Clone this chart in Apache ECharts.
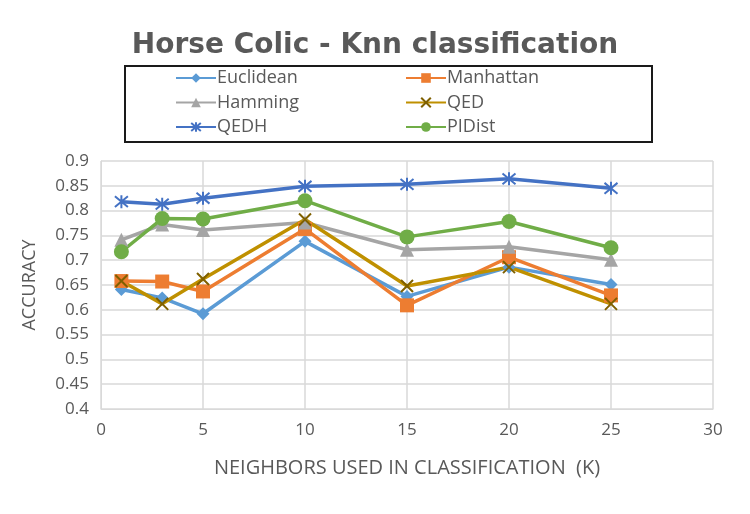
<!DOCTYPE html>
<html><head><meta charset="utf-8">
<script src="https://cdn.jsdelivr.net/npm/echarts@6/dist/echarts.min.js"></script>
<style>html,body{margin:0;padding:0;background:#fff}#c{width:750px;height:514px}</style>
</head><body><div id="c"></div>
<script>
const kValues = [1, 3, 5, 10, 15, 20, 25];
const euclidean = [0.641, 0.624, 0.592, 0.738, 0.627, 0.686, 0.651];
const manhattan = [0.658, 0.657, 0.637, 0.763, 0.609, 0.706, 0.629];
const hamming   = [0.741, 0.772, 0.761, 0.776, 0.721, 0.727, 0.701];
const qed       = [0.658, 0.612, 0.662, 0.782, 0.648, 0.686, 0.612];
const qedh      = [0.818, 0.813, 0.825, 0.849, 0.853, 0.864, 0.845];
const pidist    = [0.717, 0.784, 0.783, 0.820, 0.747, 0.778, 0.725];
const seriesNames = ['Euclidean', 'Manhattan', 'Hamming', 'QED', 'QEDH', 'PIDist'];

const pairs = v => kValues.map((k, i) => [k, v[i]]);
const X_PATH = 'path://M0,0L10,10M10,0L0,10';
const STAR_PATH = 'path://M0,0L10,10M10,0L0,10M5,-1L5,11';

function line(name, data, color, symbol, size, extra) {
  return Object.assign({
    name, type: 'line', data: pairs(data), symbol, symbolSize: size,
    lineStyle: { color, width: 3.5 },
    itemStyle: { color, borderColor: color, borderWidth: 0 },
    z: 3
  }, extra || {});
}

const chart = echarts.init(document.getElementById('c'));
const txt = '#595959';
const legendText = { fontFamily: 'Open Sans', fontSize: 18, color: txt, padding: [0, 0, 0, -4] };
chart.setOption({
  animation: false,
  title: {
    text: 'Horse Colic - Knn classification', left: 'center', top: 27,
    textStyle: { fontFamily: 'DejaVu Sans', fontWeight: 'bold', fontSize: 28, color: txt }
  },
  graphic: [{
    type: 'rect', shape: { x: 125, y: 66, width: 527, height: 76 },
    style: { fill: 'none', stroke: '#1a1a1a', lineWidth: 2 }, z: 10
  }],
  legend: [{
    orient: 'vertical', left: 170, top: 64, itemWidth: 40, itemHeight: 12, itemGap: 6.5,
    data: ['Euclidean', 'Hamming', 'QEDH'], textStyle: legendText
  }, {
    orient: 'vertical', left: 400, top: 64, itemWidth: 40, itemHeight: 12, itemGap: 6.5,
    data: ['Manhattan', 'QED', 'PIDist'], textStyle: legendText
  }],
  grid: { left: 101, right: 37, top: 161, bottom: 105 },
  xAxis: {
    type: 'value', min: 0, max: 30, interval: 5,
    name: 'NEIGHBORS USED IN CLASSIFICATION  (K)', nameLocation: 'middle', nameGap: 49,
    nameTextStyle: { fontFamily: 'Open Sans', fontSize: 20, color: txt },
    axisLine: { show: true, lineStyle: { color: '#D9D9D9' } },
    axisTick: { show: false },
    axisLabel: { fontFamily: 'Open Sans', fontSize: 17, color: txt, margin: 13 },
    splitLine: { show: true, lineStyle: { color: '#D9D9D9', width: 1.5 } }
  },
  yAxis: {
    type: 'value', min: 0.4, max: 0.9, interval: 0.05,
    name: 'ACCURACY', nameLocation: 'middle', nameGap: 62,
    nameTextStyle: { fontFamily: 'Open Sans', fontSize: 18, color: txt },
    axisLine: { show: true, lineStyle: { color: '#D9D9D9' } },
    axisTick: { show: false },
    axisLabel: { fontFamily: 'Open Sans', fontSize: 17, color: txt, margin: 12,
      formatter: v => String(parseFloat(v.toFixed(2))) },
    splitLine: { show: true, lineStyle: { color: '#D9D9D9', width: 1.5 } }
  },
  series: [
    line('Euclidean', euclidean, '#5B9BD5', 'diamond', 13),
    line('Manhattan', manhattan, '#ED7D31', 'rect', 14),
    line('Hamming', hamming, '#A5A5A5', 'triangle', 14),
    line('QED', qed, '#BF9000', X_PATH, 12, { itemStyle: { color: '#7F6000', borderColor: '#7F6000', borderWidth: 2 } }),
    line('QEDH', qedh, '#4472C4', STAR_PATH, 13, { itemStyle: { color: '#4472C4', borderColor: '#4472C4', borderWidth: 2 } }),
    line('PIDist', pidist, '#70AD47', 'circle', 15)
  ]
});
</script></body></html>
